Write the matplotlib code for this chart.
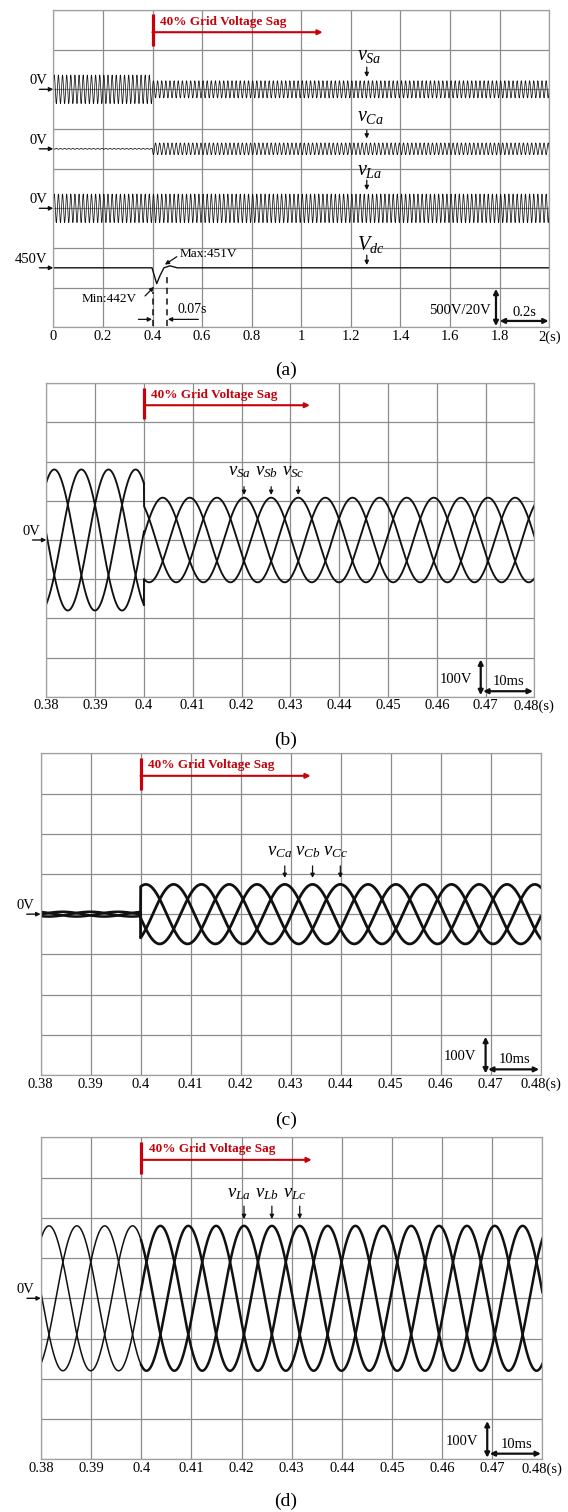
import numpy as np
import matplotlib.pyplot as plt

plt.rcParams['font.family'] = ['Liberation Serif', 'DejaVu Serif']
plt.rcParams['mathtext.fontset'] = 'custom'
plt.rcParams['mathtext.rm'] = 'Liberation Serif'
plt.rcParams['mathtext.it'] = 'Liberation Serif:italic'

# --- data read from the scope captures ---
f_grid = 60.0          # Hz
t_sag = 0.4            # s, sag starts
t_peak_a = 0.4205      # s, a phase peak after the sag
vs_amp = [180, 108]    # source voltage amplitude before / after sag (V)
vc_amp = [6, 74]       # compensating voltage amplitude (V)
vl_amp = [180, 180]    # load voltage amplitude (V)

vdc_t = [0.0, 0.398, 0.405, 0.417, 0.43, 0.446, 0.47, 0.5, 2.0]
vdc_v = [450, 450, 447, 442, 446, 450, 451, 450, 450]

ticks_a = [0, 0.2, 0.4, 0.6, 0.8, 1.0, 1.2, 1.4, 1.6, 1.8, 2.0]
labels_a = ['0', '0.2', '0.4', '0.6', '0.8', '1', '1.2', '1.4', '1.6', '1.8', '2(s)']
ticks_z = [0.38, 0.39, 0.40, 0.41, 0.42, 0.43, 0.44, 0.45, 0.46, 0.47, 0.48]
labels_z = ['0.38', '0.39', '0.4', '0.41', '0.42', '0.43', '0.44', '0.45',
            '0.46', '0.47', '0.48(s)']

GRID = '#8c8c8c'
RED = '#c8000a'
INK = '#111111'


def wave(t, amp, k, shift=0.0):
    a = np.where(t < t_sag, amp[0], amp[1])
    return a * np.cos(2 * np.pi * f_grid * (t - t_peak_a) - 2 * np.pi * k / 3 + shift)


def setup(ax, xlim, ylim, xticks, xlabels, ystep):
    ax.set_xlim(xlim)
    ax.set_ylim(ylim)
    ax.set_xticks(xticks)
    ax.set_xticklabels(xlabels, fontsize=10.5)
    ax.set_yticks(np.arange(ylim[0], ylim[1] + ystep / 2, ystep))
    ax.set_yticklabels([])
    ax.tick_params(length=0, pad=2)
    ax.grid(True, color=GRID, lw=0.9)
    ax.set_axisbelow(True)
    for s in ax.spines.values():
        s.set_color('#a0a0a0')
        s.set_linewidth(0.9)


def arrow(ax, p0, p1, style='-|>', color=INK, lw=0.9, ms=6):
    ax.annotate('', xy=p1, xytext=p0,
                arrowprops=dict(arrowstyle=style, color=color, lw=lw,
                                mutation_scale=ms, shrinkA=0, shrinkB=0))


def zero_mark(ax, y, text):
    ax.annotate('', xy=(0, y), xycoords=ax.get_yaxis_transform(),
                xytext=(-10, 0), textcoords='offset points',
                arrowprops=dict(arrowstyle='-|>', color=INK, lw=1.0,
                                mutation_scale=6, shrinkA=0, shrinkB=0))
    ax.annotate(text, xy=(0, y), xycoords=ax.get_yaxis_transform(),
                xytext=(-4.5, 6), textcoords='offset points',
                ha='right', va='center', fontsize=10.5, annotation_clip=False)


def sag_mark(ax, x0, x_end, y_lo, y_hi, y_txt, y_arr, dx_txt):
    ax.plot([x0, x0], [y_lo, y_hi], color=RED, lw=2.3, solid_capstyle='butt')
    ax.text(x0 + dx_txt, y_txt, '40% Grid Voltage Sag', color=RED,
            fontweight='bold', fontsize=9.5, va='center', ha='left')
    arrow(ax, (x0, y_arr), (x_end, y_arr), color=RED, lw=1.5, ms=7)


fig = plt.figure(figsize=(5.68, 15.12), dpi=100)
H = 1512.0
W = 568.0


def axes_px(left, right, top, bottom):
    return fig.add_axes([left / W, 1 - bottom / H, (right - left) / W, (bottom - top) / H])


# ---------------- (a) ----------------
ax = axes_px(53.3, 549.3, 10, 327.3)
setup(ax, (0, 2), (0, 8), ticks_a, labels_a, 1)
t = np.linspace(0, 2, 24001)
ax.plot(t, 6 + wave(t, vs_amp, 0) / 500, color=INK, lw=0.55)
ax.plot(t, 4.5 + wave(t, vc_amp, 0, np.pi) / 500, color=INK, lw=0.55)
ax.plot(t, 3 + wave(t, vl_amp, 0) / 500, color=INK, lw=0.55)
ax.plot(vdc_t, 1.5 + (np.array(vdc_v) - 450) / 20, color=INK, lw=1.0)

for yv, txt in [(6, '0V'), (4.5, '0V'), (3, '0V'), (1.5, '450V')]:
    zero_mark(ax, yv, txt)

sag_mark(ax, 0.4, 1.086, 7.1, 7.9, 7.69, 7.44, 0.031)

for ytxt, a0, a1, txt in [(6.73, 6.56, 6.31, '$v_{Sa}$'),
                          (5.2, 4.97, 4.76, '$v_{Ca}$'),
                          (3.84, 3.71, 3.46, '$v_{La}$'),
                          (1.95, 1.82, 1.57, '$V_{dc}$')]:
    ax.text(1.224, ytxt, txt, fontsize=14.5, ha='left', va='baseline')
    arrow(ax, (1.264, a0), (1.264, a1))

ax.text(0.511, 1.85, 'Max:451V', fontsize=9.5, ha='left', va='center')
arrow(ax, (0.498, 1.78), (0.45, 1.58))
ax.text(0.338, 0.71, 'Min:442V', fontsize=9.5, ha='right', va='center')
arrow(ax, (0.37, 0.79), (0.406, 1.02))
ax.plot([0.4, 0.4], [0.03, 0.9], color=INK, lw=1.1, ls=(0, (4, 3)))
ax.plot([0.46, 0.46], [0.03, 1.27], color=INK, lw=1.1, ls=(0, (4, 3)))
arrow(ax, (0.343, 0.2), (0.398, 0.2))
arrow(ax, (0.585, 0.2), (0.462, 0.2))
ax.text(0.50, 0.44, '0.07s', fontsize=10, ha='left', va='center')

arrow(ax, (1.785, 0.03), (1.785, 0.97), style='<|-|>', lw=1.6, ms=7)
arrow(ax, (1.8, 0.16), (1.997, 0.16), style='<|-|>', lw=1.6, ms=7)
ax.text(1.764, 0.42, '500V/20V', fontsize=10.5, ha='right', va='center')
ax.text(1.9, 0.38, '0.2s', fontsize=10.5, ha='center', va='center')

fig.text(286 / W, 1 - 370 / H, '(a)', fontsize=14, ha='center', va='center')

# ---------------- (b), (c), (d) ----------------
tz = np.linspace(0.38, 0.48, 6001)
panels = [
    dict(box=(46.4, 534.4, 383.3, 696.7), amp=vs_amp, shift=0.0, name='S',
         lw=(1.35, 1.35), lab_y=166, arr=(136, 115), cap='(b)', cap_y=740),
    dict(box=(40.6, 540.6, 753.3, 1075.0), amp=vc_amp, shift=np.pi, name='C',
         lw=(1.8, 2.0), lab_y=147, arr=(120, 90), cap='(c)', cap_y=1120),
    dict(box=(40.9, 542.4, 1137.3, 1459.3), amp=vl_amp, shift=0.0, name='L',
         lw=(1.1, 1.8), lab_y=252, arr=(229, 197), cap='(d)', cap_y=1501),
]

for p in panels:
    ax = axes_px(*p['box'])
    setup(ax, (0.38, 0.48), (-400, 400), ticks_z, labels_z, 100)
    pre = tz < t_sag
    for k in range(3):
        y = wave(tz, p['amp'], k, p['shift'])
        ax.plot(tz[pre], y[pre], color=INK, lw=p['lw'][0])
        ax.plot(np.r_[tz[pre][-1], tz[~pre]], np.r_[y[pre][-1], y[~pre]],
                color=INK, lw=p['lw'][1])

    zero_mark(ax, 0, '0V')
    sag_mark(ax, 0.4, 0.434, 308, 389, 370, 344, 0.0015)

    t0 = t_peak_a + (1 / (2 * f_grid) if p['shift'] else 0)
    for k, ph in enumerate('abc'):
        tk = t0 + k / (3 * f_grid)
        ax.text(tk - 0.001, p['lab_y'], '$v_{%s%s}$' % (p['name'], ph),
                fontsize=13.5, ha='center', va='baseline')
        arrow(ax, (tk, p['arr'][0]), (tk, p['arr'][1]))

    arrow(ax, (0.469, -396), (0.469, -305), style='<|-|>', lw=1.6, ms=7)
    arrow(ax, (0.4695, -386), (0.4797, -386), style='<|-|>', lw=1.6, ms=7)
    ax.text(0.4672, -355, '100V', fontsize=10.5, ha='right', va='center')
    ax.text(0.4748, -362, '10ms', fontsize=10.5, ha='center', va='center')

    fig.text(286 / W, 1 - p['cap_y'] / H, p['cap'], fontsize=14,
             ha='center', va='center')

fig.savefig('out.png', dpi=100)
